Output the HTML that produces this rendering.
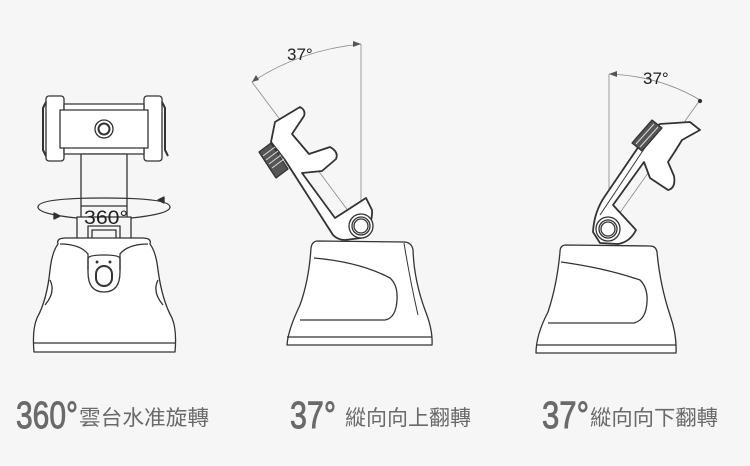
<!DOCTYPE html>
<html><head><meta charset="utf-8"><style>
html,body{margin:0;padding:0;background:#f6f6f6;}
svg{display:block}
</style></head><body>
<svg width="750" height="466" viewBox="0 0 750 466" xmlns="http://www.w3.org/2000/svg">
<rect width="750" height="466" fill="#f6f6f6"/>
<g fill="none" stroke="#333" stroke-width="1.3" stroke-linejoin="round">
<!-- LEFT DEVICE -->
<rect x="46" y="96" width="18" height="65" rx="3" fill="#fff"/>
<rect x="144" y="96" width="18" height="65" rx="3" fill="#fff"/>
<path d="M46 102 l-3 6 v42 l3 6 M162 102 l3 6 v42 l3 6" stroke-width="2"/>
<rect x="64" y="104" width="80" height="50" fill="#fff"/>
<rect x="60" y="110" width="88" height="38" fill="#fff"/>
<circle cx="104" cy="129" r="9"/><circle cx="104" cy="129" r="5.5" stroke-width="2"/>
<rect x="81" y="154" width="46" height="86" fill="#f6f6f6"/>
<line x1="81" y1="206" x2="127" y2="206"/>
<rect x="77" y="217" width="54" height="26" fill="#f6f6f6"/>
<rect x="88" y="226" width="32" height="18"/>
<rect x="92" y="230" width="24" height="10"/>
<path d="M58 244 Q56 238 66 238 H142 Q152 238 150 244 Q156 252 158 270 Q162 300 172 318 Q177 330 175 352 H34 Q32 330 37 318 Q47 300 50 270 Q52 252 58 244 Z" fill="#fff"/>
<path d="M60 244 Q80 244 88 254 V270 M148 244 Q128 244 120 254 V270"/>
<path d="M88 258 Q90 255 104 255 Q118 255 120 258 V272 Q120 292 104 292 Q88 292 88 272 Z"/>
<rect x="96" y="266" width="16" height="20" rx="8" stroke-width="2"/>
<path d="M34 343 H175" />
<path d="M50 280 Q56 292 45 305 M158 280 Q152 292 163 305"/>
<circle cx="97" cy="262" r=".8" fill="#333"/><circle cx="110" cy="262" r=".8" fill="#333"/>
<path d="M77 218 Q38 214 38 207 Q38 198 104 198 Q170 198 170 207 Q170 214 131 218" />
<path d="M60 216 l-6 -3 v6z M158 200 l6 -3 v6z" fill="#333"/>
<!-- MIDDLE DEVICE -->
<line x1="361" y1="44" x2="361" y2="228" stroke="#888" stroke-width="0.8"/>
<line x1="252" y1="82" x2="361" y2="228" stroke="#888" stroke-width="0.8"/>
<path d="M252 82 Q300 50 361 44" stroke="#888" stroke-width="0.8"/>
<path d="M361 44 l-8 -3 v6z M252 82 l4 -7 l3 5z" fill="#555" stroke="none"/>
<path d="M275 122 L300 107 Q306 110 304 116 L292 134 L309 154 L330 147 Q339 152 336 159 L322 171 L302 173 L335 218 L366 198 L372 210 Q373 225 361 238 L345 240 Q338 240 333 235 L285 160 L271 142 Z" fill="#fff" stroke-width="1.8"/>
<path d="M278 150 L330 230" stroke-width="1"/>
<path d="M259 152 l12 -9 l17 26 l-12 9 z" fill="#555"/>
<path d="M263 156 l12 -9 M266 160 l12 -9 M269 164 l12 -9 M272 168 l12 -9" stroke="#ddd" stroke-width="1"/>
<circle cx="361" cy="226" r="12" fill="#fff"/><circle cx="361" cy="226" r="9"/><circle cx="361" cy="226" r="7"/>
<path d="M318 241 Q312 241 311 248 Q309 280 300 305 Q288 330 287 345 H432 Q433 330 425 310 Q414 280 413 250 Q412 243 405 242 Z" fill="#fff"/>
<path d="M314 258 Q360 262 390 278 Q398 285 397 300 Q396 318 385 320 H300"/>
<path d="M287 337 H432"/>
<path d="M404 243 Q410 280 418 315" stroke-width="1"/>
<!-- RIGHT DEVICE -->
<line x1="609" y1="74" x2="609" y2="228" stroke="#888" stroke-width="0.8"/>
<line x1="700" y1="100" x2="609" y2="228" stroke="#888" stroke-width="0.8"/>
<path d="M609 74 Q660 76 700 100" stroke="#888" stroke-width="0.8"/>
<path d="M609 74 l8 -3 v6z" fill="#555" stroke="none"/>
<circle cx="700" cy="101" r="1.5" fill="#333"/>
<path d="M593 232 Q594 212 605 196 L650 130 L660 124 L690 122 L700 130 L682 140 Q676 150 668 162 L674 176 Q676 188 668 190 L650 178 L644 162 L613 205 L636 230 Q630 242 618 244 L600 243 Z" fill="#fff" stroke-width="1.8"/>
<path d="M600 215 L648 143" stroke-width="1"/>
<path d="M632 143 l20 -23 l10 8 l-20 23 z" fill="#555"/>
<path d="M636 144 l18 -20 M640 147 l18 -20" stroke="#ddd" stroke-width="1"/>
<circle cx="608" cy="229" r="12" fill="#fff"/><circle cx="608" cy="229" r="9"/><circle cx="608" cy="229" r="7"/>
<path d="M566 245 Q560 245 560 252 Q557 285 548 312 Q536 335 536 353 H676 Q677 335 670 315 Q660 285 657 252 Q656 246 650 246 Z" fill="#fff"/>
<path d="M561 262 Q605 268 640 280 Q648 288 647 302 Q646 320 634 323 H548"/>
<path d="M536 345 H676"/>
</g>
<g font-family="'Liberation Sans','Noto Sans CJK TC',sans-serif" fill="#6a6a6a">
<text x="84" y="224" font-size="19" fill="#222" textLength="44" lengthAdjust="spacingAndGlyphs">360°</text>
<text x="287" y="60" font-size="17" fill="#222">37°</text>
<text x="643" y="84" font-size="17" fill="#222">37°</text>
<g stroke="#6a6a6a" stroke-width="0.9">
<text x="16" y="428" font-size="38" textLength="62" lengthAdjust="spacingAndGlyphs">360°</text>
<text x="290" y="428" font-size="38" textLength="46" lengthAdjust="spacingAndGlyphs">37°</text>
<text x="542" y="428" font-size="38" textLength="47" lengthAdjust="spacingAndGlyphs">37°</text>
</g>
<text x="79" y="425" font-size="21" textLength="130" lengthAdjust="spacingAndGlyphs">雲台水准旋轉</text>
<text x="345" y="425" font-size="21" textLength="126" lengthAdjust="spacingAndGlyphs">縱向向上翻轉</text>
<text x="590" y="425" font-size="21" textLength="128" lengthAdjust="spacingAndGlyphs">縱向向下翻轉</text>
</g>
</svg>
</body></html>
